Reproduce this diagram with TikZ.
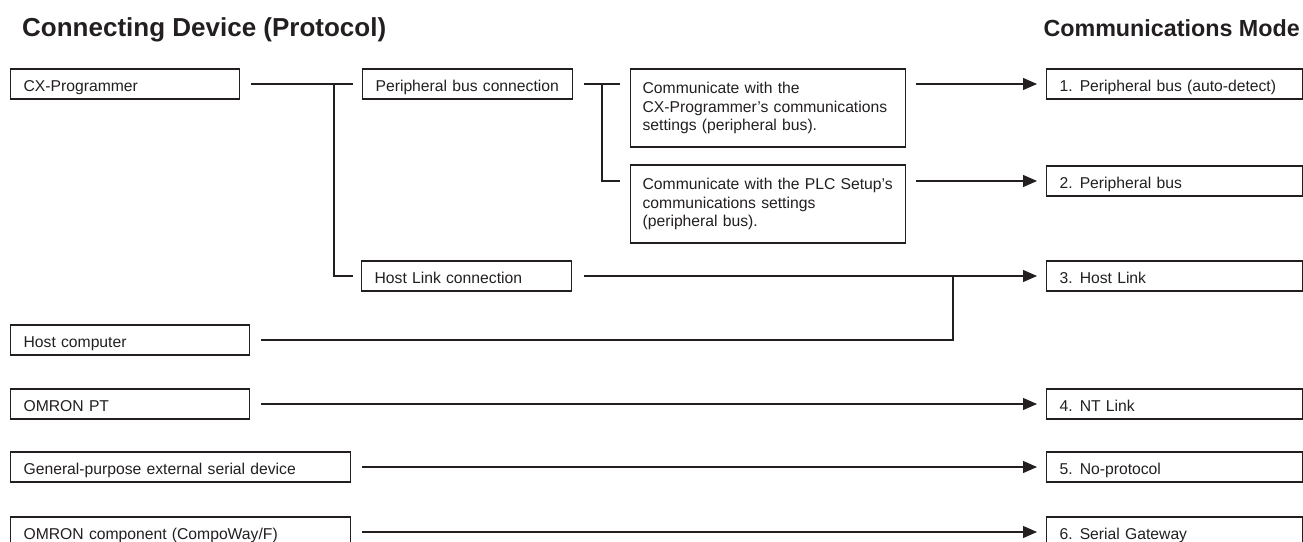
\documentclass[tikz,border=0pt]{standalone}
\usepackage{fontspec}
\setmainfont{Liberation Sans}
\usetikzlibrary{arrows.meta,calc}
\definecolor{ink}{RGB}{35,31,32}
\begin{document}
\begin{tikzpicture}[x=1pt,y=-1pt,
  every node/.style={text=ink},
  boxbase/.style={draw=ink, line width=1.2pt, inner xsep=13pt, inner ysep=0pt,
    align=left, anchor=west, font=\fontsize{15.7}{18.5}\selectfont},
  box/.style={boxbase, minimum height=30pt, text height=16pt, text depth=1pt},
  tallbox/.style={boxbase, minimum height=78pt, inner xsep=12pt},
  title/.style={font=\fontsize{26}{30}\selectfont\bfseries, inner sep=0pt},
  conn/.style={draw=ink, line width=1.2pt},
  arr/.style={conn, -{Triangle[length=14pt,width=12pt]}}
]
\useasboundingbox (0,0) rectangle (1303,541);
\clip (0,0) rectangle (1303,541);

% titles
\node[title, anchor=base west] (t1) at (22,36) {Connecting Device (Protocol)};
\node[title, anchor=base east, font=\fontsize{23.3}{28}\selectfont\bfseries] (t2) at (1300,36) {Communications Mode};

% left column
\node[box, text width=203pt] (cx) at (10,84) {\mbox{CX-Programmer}};
\node[box, text width=213pt] (hostc) at (10,340) {\mbox{Host computer}};
\node[box, text width=213pt] (pt) at (10,404) {\mbox{OMRON PT}};
\node[box, text width=314pt] (gen) at (10,467) {\mbox{General-purpose external serial device}};
\node[box, text width=314pt] (comp) at (10,532) {\mbox{OMRON component (CompoWay/F)}};

% middle columns
\node[box, text width=184pt] (pbc) at (362,84) {\mbox{Peripheral bus connection}};
\node[box, text width=184pt] (hlc) at (361,276) {\mbox{Host Link connection}};
\node[tallbox, text width=251pt] (c1) at (630,108) {\mbox{Communicate with the}\\\mbox{CX-Programmer’s communications}\\\mbox{settings (peripheral bus).}};
\node[tallbox, text width=251pt] (c2) at (630,204) {\mbox{Communicate with the PLC Setup’s}\\\mbox{communications settings}\\\mbox{(peripheral bus).}};

% right column
\node[box, text width=230pt] (r1) at (1046,84) {\mbox{1.\hspace{0.45em}Peripheral bus (auto-detect)}};
\node[box, text width=230pt] (r2) at (1046,181) {\mbox{2.\hspace{0.45em}Peripheral bus}};
\node[box, text width=230pt] (r3) at (1046,276) {\mbox{3.\hspace{0.45em}Host Link}};
\node[box, text width=230pt] (r4) at (1046,404) {\mbox{4.\hspace{0.45em}NT Link}};
\node[box, text width=230pt] (r5) at (1046,467) {\mbox{5.\hspace{0.45em}No-protocol}};
\node[box, text width=230pt] (r6) at (1046,532) {\mbox{6.\hspace{0.45em}Serial Gateway}};

% junction points
\coordinate (j1) at (334,84);
\coordinate (j2) at (602,84);
\coordinate (c2in) at (630,181);
\coordinate (j3) at (953,276);

% connectors
\draw[conn, shorten <=11pt, shorten >=9pt] (cx.east) -- (pbc.west);
\draw[conn, shorten >=8pt] (j1) |- (hlc.west);
\draw[conn, shorten <=11pt, shorten >=10pt] (pbc.east) -- (pbc.east -| c1.west);
\draw[conn, shorten >=10pt] (j2) |- (c2in);
\draw[arr, shorten <=10pt, shorten >=9pt] (c1.east |- r1.west) -- (r1.west);
\draw[arr, shorten <=10pt, shorten >=9pt] (c2.east |- r2.west) -- (r2.west);
\draw[arr, shorten <=12pt, shorten >=9pt] (hlc.east) -- (r3.west);
\draw[conn, shorten <=11pt] (hostc.east) -| (j3);
\draw[arr, shorten <=11pt, shorten >=9pt] (pt.east) -- (r4.west);
\draw[arr, shorten <=11pt, shorten >=9pt] (gen.east) -- (r5.west);
\draw[arr, shorten <=11pt, shorten >=9pt] (comp.east) -- (r6.west);
\end{tikzpicture}
\end{document}
